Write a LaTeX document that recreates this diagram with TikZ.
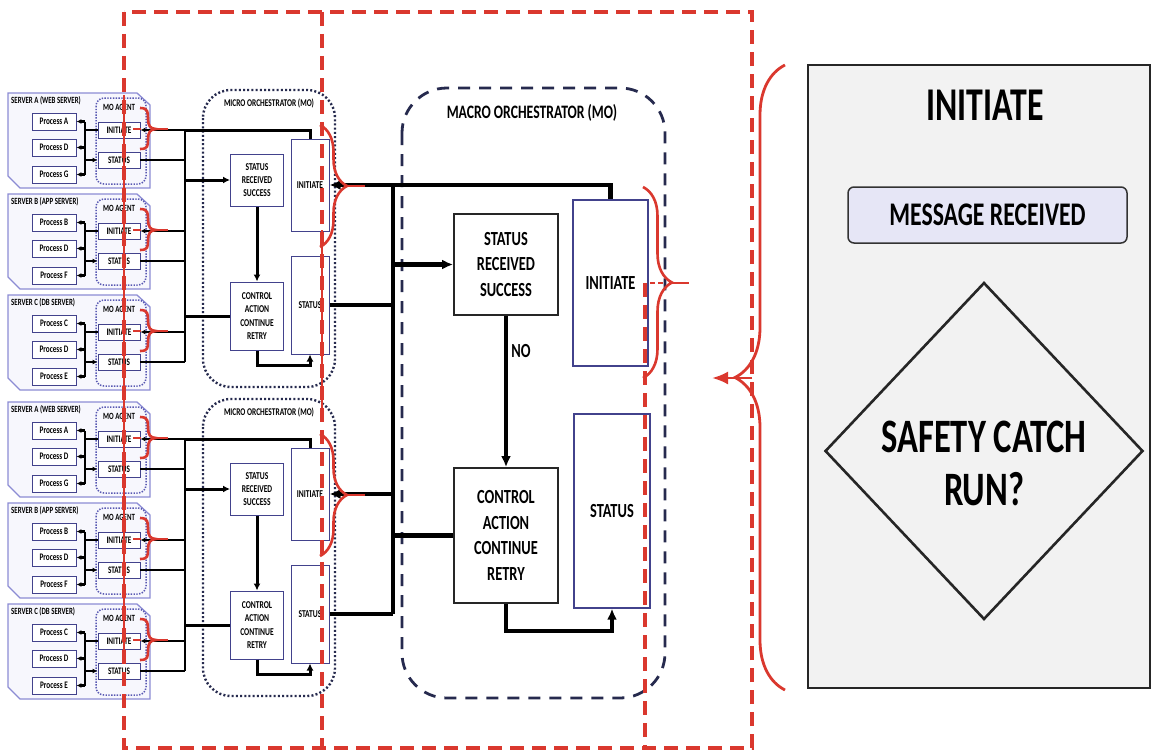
\documentclass[tikz,border=0pt]{standalone}
\usepackage{fontspec}
\setmainfont{Carlito}[FakeStretch=0.72]
\usepackage{tikz}
\usetikzlibrary{arrows.meta,decorations.pathreplacing,shapes.geometric,calc}

\definecolor{annred}{RGB}{218,56,46}
\definecolor{mnavy}{RGB}{38,42,78}
\definecolor{bxline}{RGB}{66,66,140}
\definecolor{srvline}{RGB}{140,140,212}
\definecolor{srvfill}{RGB}{247,247,253}
\definecolor{agline}{RGB}{88,88,178}
\definecolor{panelfill}{RGB}{242,242,242}
\definecolor{msgfill}{RGB}{230,230,246}

\begin{document}
\begin{tikzpicture}[x=1pt, y=-1pt,
    procbox/.style={rectangle, draw=bxline, line width=0.9pt, fill=white, minimum width=44pt, minimum height=17pt, inner sep=0pt, font=\fontsize{10}{11}\selectfont\bfseries},
    agbox/.style={rectangle, draw=bxline, line width=0.9pt, fill=white, minimum width=42pt, minimum height=16pt, inner sep=0pt, font=\fontsize{10}{11}\selectfont\bfseries},
    tinylabel/.style={inner sep=0pt, font=\fontsize{9.5}{10}\selectfont\bfseries},
    microbox/.style={rectangle, draw=bxline, line width=1pt, fill=white, inner sep=0pt, align=center, font=\fontsize{10.5}{13.3}\selectfont\bfseries},
    macrobox/.style={rectangle, draw=black!85, line width=1.8pt, fill=white, inner sep=0pt, align=center, font=\fontsize{20}{25.5}\selectfont\bfseries},
    tallbox/.style={rectangle, draw=bxline, line width=1.3pt, fill=white, inner sep=0pt, align=center, font=\fontsize{20}{25.5}\selectfont\bfseries},
    sline/.style={line width=2.3pt, black},
    sarrow/.style={sline, -{Latex[length=5pt,width=5pt]}},
    mline/.style={line width=3pt, black},
    marrow/.style={mline, -{Latex[length=7pt,width=7pt]}},
    Mline/.style={line width=4.2pt, black},
    Marrow/.style={Mline, -{Latex[length=11pt,width=10pt]}},
    reddash/.style={draw=annred, line width=3.4pt, dash pattern=on 14pt off 8pt},
    redline/.style={draw=annred, line width=2.6pt},
    redbrace/.style={redline, decorate, decoration={brace, amplitude=#1}}
  ]
  \fill[white] (0,0) rectangle (1153,752);
  \useasboundingbox (0,0) rectangle (1153,752);

  % servers, agents and micro orchestrators
  \foreach \g/\oy in {1/0, 2/309} {
    \coordinate (sbus\g) at (185,\oy);
    \foreach \s/\sname/\pa/\pb/\pc in {1/{SERVER A (WEB SERVER)}/A/D/G, 2/{SERVER B (APP SERVER)}/B/D/F, 3/{SERVER C (DB SERVER)}/C/D/E} {
      \pgfmathsetmacro{\ty}{93+101*(\s-1)+\oy}
      \draw[draw=srvline, line width=1.3pt, fill=srvfill] (8,\ty) -- (137,\ty) -- (150,\ty+12) -- (150,\ty+95) -- (20,\ty+95) -- (8,\ty+83) -- cycle;
      \node[tinylabel, anchor=west] (st\g\s) at (11,\ty+8) {\sname};
      \draw[draw=agline, line width=1.5pt, dash pattern=on 1.4pt off 1.4pt, rounded corners=8pt] (96,\ty+5) rectangle (146,\ty+91);
      \node[tinylabel] (at\g\s) at (119,\ty+14) {MO AGENT};
      \node[procbox] (pa\g\s) at (54,\ty+28.5) {Process \pa};
      \node[procbox] (pb\g\s) at (54,\ty+54.5) {Process \pb};
      \node[procbox] (pc\g\s) at (54,\ty+81.5) {Process \pc};
      \node[agbox] (ai\g\s) at (119,\ty+37) {INITIATE};
      \node[agbox] (as\g\s) at (119,\ty+67) {STATUS};
      \coordinate (pbus\g\s) at (85,\ty);
      \draw[sline] (pa\g\s.east -| pbus\g\s) -- (pc\g\s.east -| pbus\g\s);
      \draw[sarrow] (pa\g\s.east -| pbus\g\s) -- (pa\g\s.east);
      \draw[sarrow] (pb\g\s.east -| pbus\g\s) -- (pb\g\s.east);
      \draw[sarrow] (pc\g\s.east -| pbus\g\s) -- (pc\g\s.east);
      \draw[sline] (ai\g\s.west -| pbus\g\s) -- (ai\g\s.west);
      \draw[sarrow] (as\g\s.west -| pbus\g\s) -- (as\g\s.west);
      \draw[sarrow] (ai\g\s.east -| sbus\g) -- (ai\g\s.east);
      \draw[sline] (as\g\s.east) -- (as\g\s.east -| sbus\g);
    }
    \draw[draw=mnavy, line width=2.4pt, dash pattern=on 2pt off 2.2pt, rounded corners=28pt] (203,90+\oy) rectangle (335,387+\oy);
    \node[tinylabel, font=\fontsize{10.3}{11}\selectfont\bfseries] (mt\g) at (269,103+\oy) {MICRO ORCHESTRATOR (MO)};
    \node[microbox, minimum width=53pt, minimum height=52pt] (msrs\g) at (257,180+\oy) {STATUS\\RECEIVED\\SUCCESS};
    \node[microbox, minimum width=38pt, minimum height=92pt] (mini\g) at (310,185+\oy) {INITIATE};
    \node[microbox, minimum width=53pt, minimum height=68pt] (mcac\g) at (257,316+\oy) {CONTROL\\ACTION\\CONTINUE\\RETRY};
    \node[microbox, minimum width=38pt, minimum height=98pt] (msta\g) at (310,305+\oy) {STATUS};
    \draw[sline] (ai\g1.east -| sbus\g) -- (as\g3.east -| sbus\g);
    \draw[mline] (ai\g1.east -| sbus\g) -| (mini\g.north);
    \draw[marrow] (msrs\g.west -| sbus\g) -- (msrs\g.west);
    \draw[mline] (mcac\g.west -| sbus\g) -- (mcac\g.west);
    \draw[marrow] (msrs\g.south) -- (mcac\g.north);
    \draw[marrow] (mcac\g.south) -- ++(0,15) -| (msta\g.south);
  }

  % macro orchestrator
  \draw[draw=mnavy, line width=2.8pt, dash pattern=on 12pt off 9pt, rounded corners=45pt] (402,88) rectangle (665,698);
  \node[tinylabel, font=\fontsize{19}{22}\selectfont\bfseries] (Mtitle) at (532,113) {MACRO ORCHESTRATOR (MO)};
  \node[macrobox, minimum width=104pt, minimum height=101pt] (Msrs) at (506,264.5) {STATUS\\RECEIVED\\SUCCESS};
  \node[tallbox, minimum width=75pt, minimum height=166pt] (Mini) at (610.5,283) {INITIATE};
  \node[macrobox, minimum width=104pt, minimum height=135pt] (Mcac) at (506,535.5) {CONTROL\\ACTION\\CONTINUE\\RETRY};
  \node[tallbox, minimum width=76pt, minimum height=194pt] (Msta) at (612,511) {STATUS};
  \coordinate (mbus) at (393,0);
  \draw[Mline] (mini1.east -| mbus) -- (msta2.east -| mbus);
  \draw[Marrow] (mini1.east -| mbus) -- (mini1.east);
  \draw[Mline] (mini1.east -| mbus) -| (Mini.north);
  \draw[Mline] (msta1.east) -- (msta1.east -| mbus);
  \draw[Marrow] (mini2.east -| mbus) -- (mini2.east);
  \draw[Mline] (msta2.east) -- (msta2.east -| mbus);
  \draw[Marrow] (Msrs.west -| mbus) -- (Msrs.west);
  \draw[Mline] (Mcac.west -| mbus) -- (Mcac.west);
  \draw[Marrow] (Msrs.south) -- node[right, pos=0.23, font=\fontsize{20}{22}\selectfont\bfseries] {NO} (Mcac.north);
  \draw[Marrow] (Mcac.south) -- ++(0,27) -| (Msta.south);

  % initiate panel
  \node[draw=black!85, line width=2.6pt, fill=panelfill, minimum width=342pt, minimum height=623pt, inner sep=0pt] (panel) at (979,376.5) {};
  \node[font=\fontsize{47}{50}\selectfont\bfseries] (ptitle) at (985,105) {INITIATE};
  \node[draw=black!80, line width=1.5pt, fill=msgfill, rounded corners=6pt, minimum width=279pt, minimum height=56pt, font=\fontsize{33}{36}\selectfont\bfseries] (msg) at (987.5,215) {MESSAGE RECEIVED};
  \node[diamond, draw=black!85, line width=2.6pt, minimum width=318pt, minimum height=337pt, inner sep=0pt] (catch) at (984,451) {};
  \node[align=center, font=\fontsize{48}{53}\selectfont\bfseries] (catchtext) at (984,463) {SAFETY CATCH\\RUN?};

  % red annotations
  \draw[reddash] (124,12) rectangle (752,748);
  \draw[reddash] (322,12) -- (322,748);
  \draw[reddash] (645,283) -- (645,748);
  \draw[redline, line width=2.8pt] (124,95) -- (124,655);
  \draw[redline, line width=2.8pt] (322,230) -- (322,420);
  \foreach \g/\oy in {1/0, 2/309}
    \foreach \s in {1,2,3} {
      \pgfmathsetmacro{\ty}{93+101*(\s-1)+\oy}
      \draw[redline] (140,\ty+15) .. controls (148,\ty+15) and (148,\ty+19) .. (148,\ty+26) .. controls (148,\ty+32) and (150,\ty+36) .. (156,\ty+36) .. controls (150,\ty+36) and (148,\ty+40) .. (148,\ty+46) .. controls (148,\ty+53) and (148,\ty+56) .. (140,\ty+56);
      \draw[redline] (156,\ty+36) -- (168,\ty+36);
      \draw[redline] (133,\ty+36) -- (141,\ty+36);
    }
  \foreach \oy in {0,309} {
    \draw[redbrace=27pt] (320,125+\oy) -- (320,247+\oy);
    \draw[redline] (347,186+\oy) -- (365,186+\oy);
  }
  \draw[redbrace=29pt] (643,187) -- (643,378);
  \draw[redline] (672,283) -- (689,283);
  \draw[redline, dash pattern=on 5pt off 3pt] (650,283) -- (663,283);
  \draw[redbrace=50pt, line width=2.8pt] (785,690) -- (785,65);
  \coordinate (bigcusp) at (735,378);
  \coordinate (bigtip) at (712,378);
  \draw[reddash, line width=2.4pt] (752,378) -- (bigcusp);
  \draw[redline, -{Latex[length=16pt,width=13pt]}] (bigcusp) -- (bigtip);
\end{tikzpicture}
\end{document}
